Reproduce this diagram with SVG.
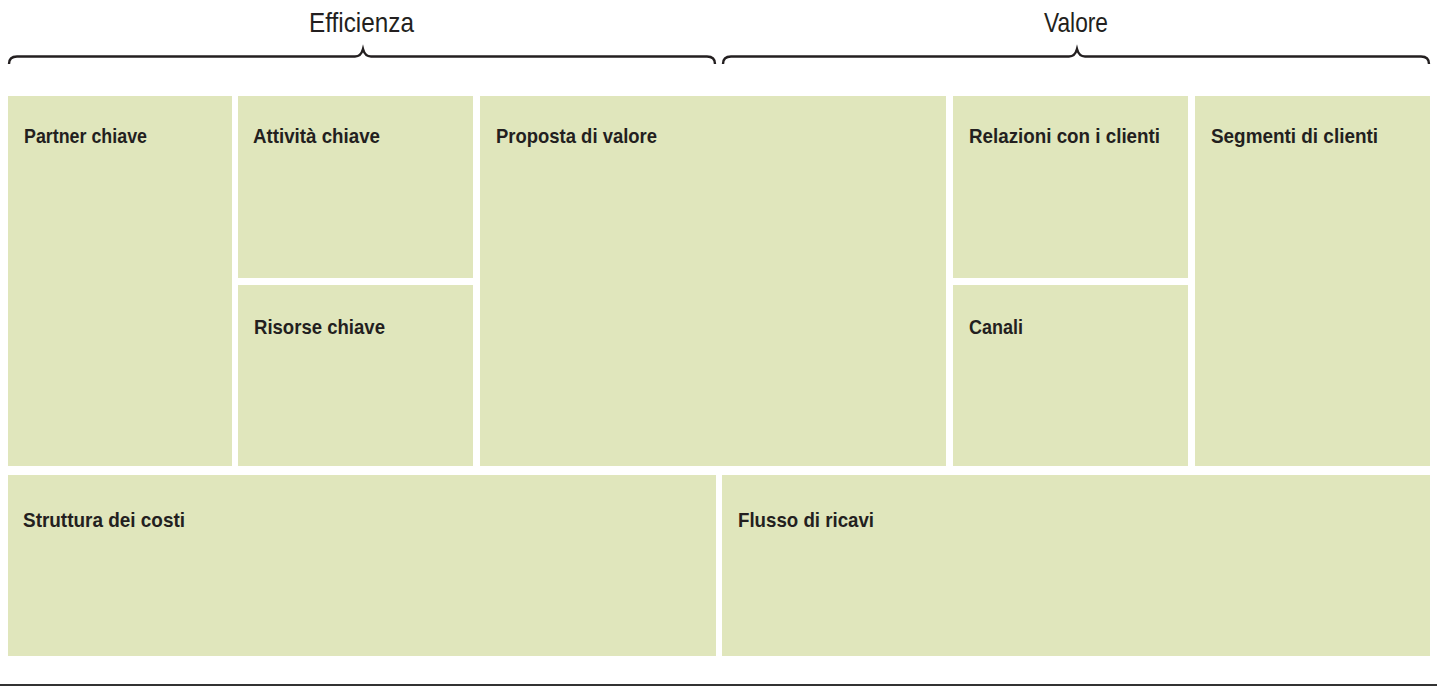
<svg xmlns="http://www.w3.org/2000/svg" width="1437" height="686" viewBox="0 0 1437 686">
<style>
.box{fill:#e0e6bc}
.lbl{font-family:"Liberation Sans",Arial,sans-serif;font-weight:bold;font-size:21px;fill:#231f20}
.hdr{font-family:"Liberation Sans",Arial,sans-serif;font-size:28px;fill:#231f20}
.brace{fill:none;stroke:#231f20;stroke-width:2.4}
</style>
<rect width="1437" height="686" fill="#ffffff"/>
<g id="connectors">
<path class="brace" d="M9,64 Q9,56.5 17,56.5 L355,56.5 Q361,56.5 363,49 Q365,56.5 371,56.5 L707,56.5 Q715,56.5 715,64"/>
<path class="brace" d="M723,64 Q723,56.5 731,56.5 L1069,56.5 Q1075,56.5 1077,49 Q1079,56.5 1085,56.5 L1421,56.5 Q1429,56.5 1429,64"/>
<line x1="0" y1="685" x2="1437" y2="685" stroke="#333333" stroke-width="2"/>
</g>
<g id="hdr-efficienza"><text class="hdr" x="309" y="32" textLength="105" lengthAdjust="spacingAndGlyphs">Efficienza</text></g>
<g id="hdr-valore"><text class="hdr" x="1044" y="32" textLength="64" lengthAdjust="spacingAndGlyphs">Valore</text></g>
<g id="partner"><rect class="box" x="8" y="96" width="224" height="370"/><text class="lbl" x="24" y="143" textLength="123" lengthAdjust="spacingAndGlyphs">Partner chiave</text></g>
<g id="attivita"><rect class="box" x="238" y="96" width="235" height="182"/><text class="lbl" x="253" y="143" textLength="127" lengthAdjust="spacingAndGlyphs">Attività chiave</text></g>
<g id="risorse"><rect class="box" x="238" y="285" width="235" height="181"/><text class="lbl" x="254" y="334" textLength="131" lengthAdjust="spacingAndGlyphs">Risorse chiave</text></g>
<g id="proposta"><rect class="box" x="480" y="96" width="466" height="370"/><text class="lbl" x="496" y="143" textLength="161" lengthAdjust="spacingAndGlyphs">Proposta di valore</text></g>
<g id="relazioni"><rect class="box" x="953" y="96" width="235" height="182"/><text class="lbl" x="969" y="143" textLength="191" lengthAdjust="spacingAndGlyphs">Relazioni con i clienti</text></g>
<g id="canali"><rect class="box" x="953" y="285" width="235" height="181"/><text class="lbl" x="969" y="334" textLength="54" lengthAdjust="spacingAndGlyphs">Canali</text></g>
<g id="segmenti"><rect class="box" x="1195" y="96" width="235" height="370"/><text class="lbl" x="1211" y="143" textLength="167" lengthAdjust="spacingAndGlyphs">Segmenti di clienti</text></g>
<g id="costi"><rect class="box" x="8" y="475" width="708" height="181"/><text class="lbl" x="23" y="527" textLength="162" lengthAdjust="spacingAndGlyphs">Struttura dei costi</text></g>
<g id="ricavi"><rect class="box" x="722" y="475" width="708" height="181"/><text class="lbl" x="738" y="527" textLength="136" lengthAdjust="spacingAndGlyphs">Flusso di ricavi</text></g>
</svg>
